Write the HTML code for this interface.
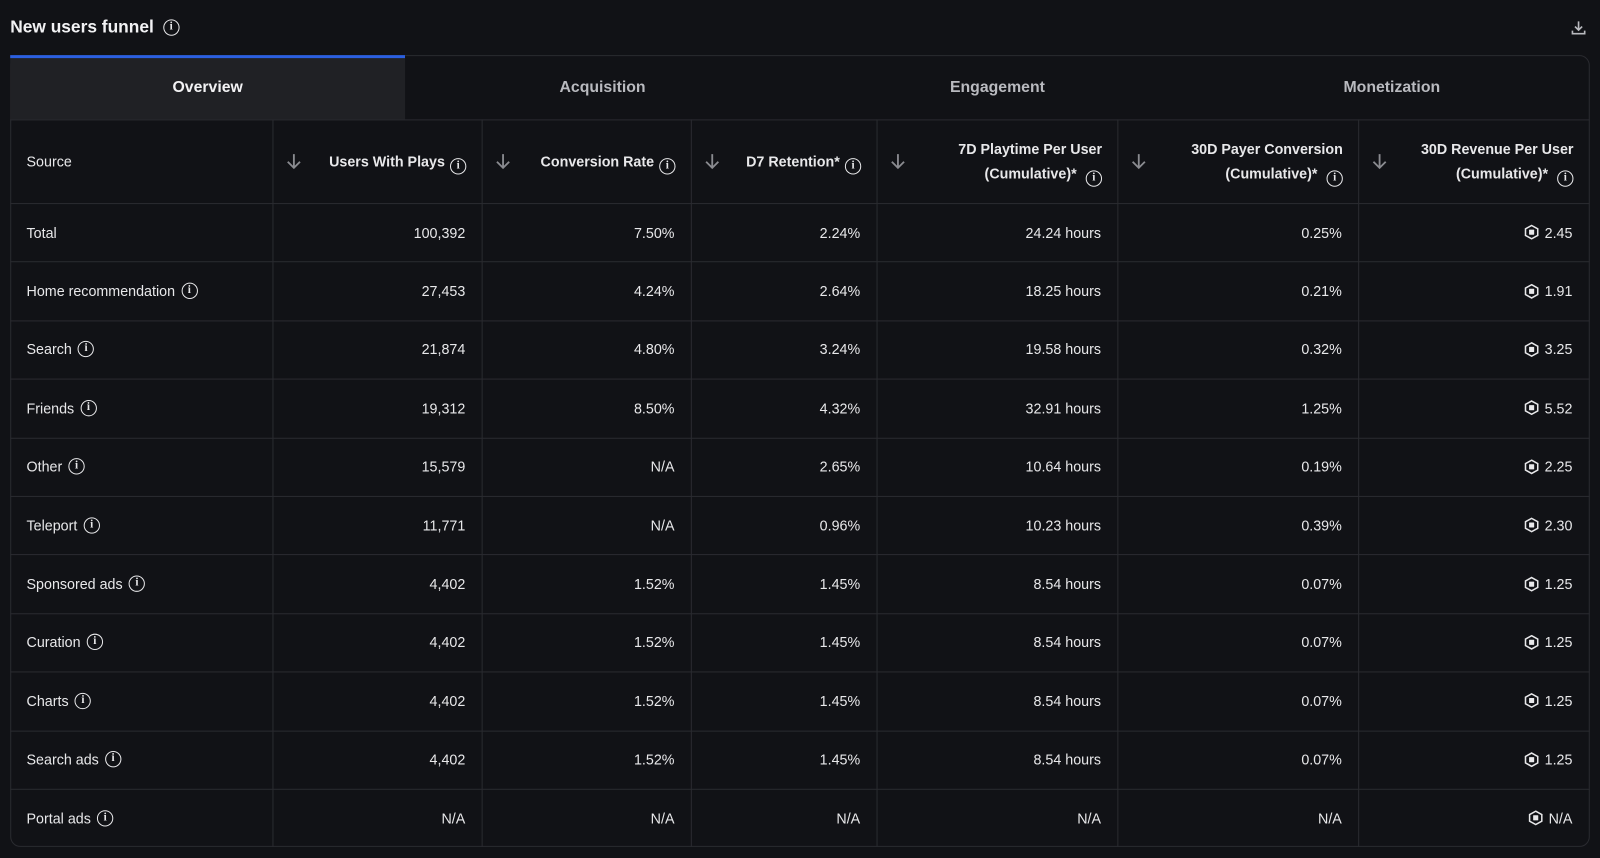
<!DOCTYPE html>
<html><head><meta charset="utf-8">
<style>
*{box-sizing:border-box;margin:0;padding:0}
body{width:1600px;height:858px;background:#111216;font-family:"Liberation Sans",sans-serif;color:#e8e8ea;position:relative;overflow:hidden}
#wrap{position:absolute;left:0;top:0;width:1568px;height:841px;transform:scale(1.0204);transform-origin:0 0}
.abs{position:absolute}
.title{left:10px;top:17px;font-size:17px;font-weight:bold;color:#f2f2f4;display:flex;align-items:center;gap:9px}
.info{display:inline-block;width:16px;height:16px;border:1.6px solid #e8e8ea;border-radius:50%;font-size:11px;font-weight:bold;line-height:13px;text-align:center;font-family:"Liberation Serif",serif;color:#e8e8ea;flex:none}
.box{left:10px;top:54px;width:1548px;height:776px;border:1px solid #2a2b30;border-radius:10px}
.tab{top:54px;height:63px;display:flex;align-items:center;justify-content:center;font-size:15.5px;font-weight:bold;color:#b9babf}
.tab.active{background:#202125;color:#f2f2f4;box-shadow:inset 0 3px 0 #2b5fe0}
.hl{height:1px;background:#2a2b30}
.vl{width:1px;background:#2a2b30}
.cell{font-size:14px;display:flex;align-items:center}
.hdr{font-size:14px;font-weight:bold;color:#e8e8ea;text-align:right;line-height:24px}
.arrow{width:18px;height:18px}
.coin{display:inline-block;width:14px;height:15px;margin-right:6px;vertical-align:-2px}
</style></head><body>
<div id="wrap">
<div class="abs title">New users funnel <span class="info">i</span></div>
<svg class="abs" style="left:1539px;top:19px" width="16" height="16"><path d="M8 2v8M4.5 7L8 10.5 11.5 7M2 11v3h12v-3" stroke="#b9babf" stroke-width="1.6" fill="none"/></svg>
<div class="abs box"></div>
<div id="root"></div>
</div>
<script>
const tabs=["Overview","Acquisition","Engagement","Monetization"];
const headers=["Source","Users With Plays","Conversion Rate","D7 Retention*","7D Playtime Per User|(Cumulative)*","30D Payer Conversion|(Cumulative)*","30D Revenue Per User|(Cumulative)*"];
const sources=["Total","Home recommendation","Search","Friends","Other","Teleport","Sponsored ads","Curation","Charts","Search ads","Portal ads"];
const usersWithPlays=["100,392","27,453","21,874","19,312","15,579","11,771","4,402","4,402","4,402","4,402","N/A"];
const conversionRate=["7.50%","4.24%","4.80%","8.50%","N/A","N/A","1.52%","1.52%","1.52%","1.52%","N/A"];
const d7Retention=["2.24%","2.64%","3.24%","4.32%","2.65%","0.96%","1.45%","1.45%","1.45%","1.45%","N/A"];
const playtime=["24.24 hours","18.25 hours","19.58 hours","32.91 hours","10.64 hours","10.23 hours","8.54 hours","8.54 hours","8.54 hours","8.54 hours","N/A"];
const payerConv=["0.25%","0.21%","0.32%","1.25%","0.19%","0.39%","0.07%","0.07%","0.07%","0.07%","N/A"];
const revenue=["2.45","1.91","3.25","5.52","2.25","2.30","1.25","1.25","1.25","1.25","N/A"];
const colX=[10,267,472,677,859,1095,1331,1557];
const tabX=[10,397,784,1171,1557];
const top0=117,hdrH=82,rowH=57.4;
const root=document.getElementById('root');
function mk(cls,style,html){const d=document.createElement('div');d.className='abs '+cls;d.style.cssText=style;if(html!==undefined)d.innerHTML=html;root.appendChild(d);return d;}
const coin='<svg class="coin" viewBox="0 0 14 15"><path d="M7 1L13 4.3V10.7L7 14 1 10.7V4.3Z" fill="none" stroke="#e8e8ea" stroke-width="1.5"/><rect x="4.5" y="5" width="5" height="5" rx="0.5" fill="#e8e8ea"/></svg>';
const arrowSvg='<svg width="18" height="18" viewBox="0 0 18 18"><path d="M9 2v13M3 9.5L9 15.5 15 9.5" stroke="#8a8b90" stroke-width="1.8" fill="none"/></svg>';
tabs.forEach((t,i)=>{
 const d=mk('tab'+(i==0?' active':''),`left:${tabX[i]}px;width:${tabX[i+1]-tabX[i]}px`,t);
 
 
});
let l=mk('hl',`left:10px;top:${top0}px;width:1548px`);


for(let r=0;r<sources.length;r++){
 const y=top0+hdrH+r*rowH;
 const d=mk('hl',`left:10px;top:${y}px;width:1548px`);
 
 
}
for(let c=1;c<colX.length-1;c++){
 const d=mk('vl',`left:${colX[c]}px;top:${top0}px;height:${830-top0}px`);
 
 
}
headers.forEach((h,c)=>{
 const x0=colX[c],x1=colX[c+1];
 if(c==0){const d=mk('cell',`left:${x0+16}px;top:${top0}px;height:${hdrH}px`,h);
  
  return;}
 const a=mk('arrow',`left:${x0+12}px;top:${top0+32}px`,arrowSvg);
 
 
 const parts=h.split('|');
 const info='<span class="info" style="margin-left:5px;display:inline-block;vertical-align:-2px">i</span>';
 let html;
 if(parts.length==1){html=parts[0]+info;}
 else html=parts[0]+'<br>'+parts[1]+' '+info;
 const d=mk('hdr',`right:${1568-x1+15}px;top:${parts.length==1?top0+29:top0+17}px`,html);
 
 
});
const cols=[usersWithPlays,conversionRate,d7Retention,playtime,payerConv,revenue];
sources.forEach((s,r)=>{
 const y=top0+hdrH+r*rowH;
 const info=r>0?' <span class="info" style="margin-left:6px">i</span>':'';
 const d=mk('cell',`left:26px;top:${y}px;height:${rowH}px`,s+info);
 
 
 cols.forEach((arr,c)=>{
  const x1=colX[c+2];
  const v=c==5?coin+arr[r]:arr[r];
  const e=mk('cell',`right:${1568-x1+16}px;top:${y}px;height:${rowH}px;justify-content:flex-end`,v);
  
  
 });
});
</script>
</body></html>
